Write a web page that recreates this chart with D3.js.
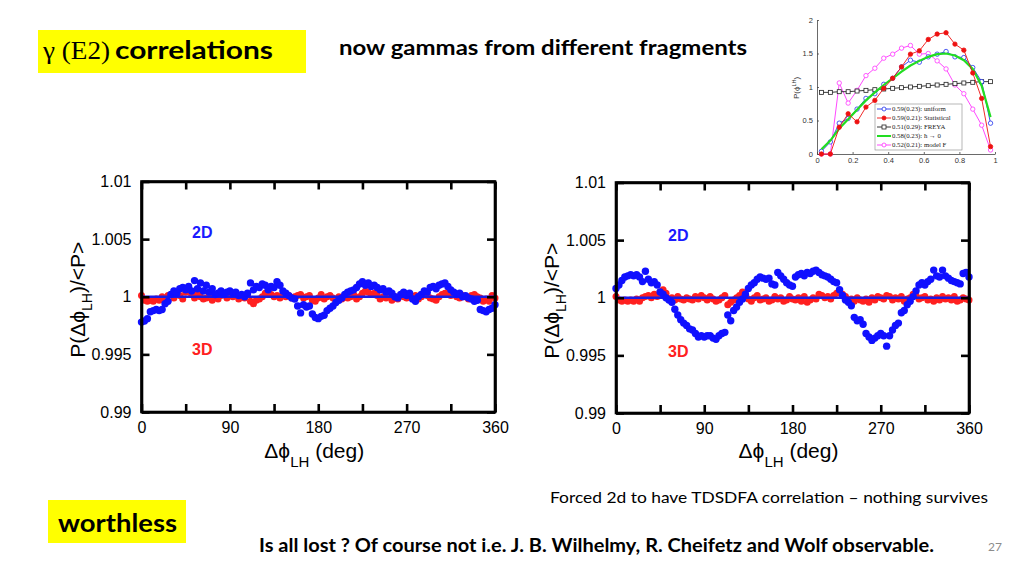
<!DOCTYPE html>
<html><head><meta charset="utf-8">
<script src="https://cdn.jsdelivr.net/npm/d3@7"></script>
<style>body{margin:0;background:#fff}</style>
</head><body><svg id="c" width="1024" height="576"></svg>
<script>
// ---------- main panels data ----------
const angles = d3.range(0, 361, 3);            // Δφ_LH (deg)
const yTicks = [0.99, 0.995, 1, 1.005, 1.01];
const yTickLabels = ["0.99", "0.995", "1", "1.005", "1.01"];
const xTicks = [0, 45, 90, 135, 180, 225, 270, 315, 360];
const xTickLabels = ["0", "", "90", "", "180", "", "270", "", "360"];
const fitLine = [[0, 1], [360, 1]];
// deviations from 1, in units of 1e-4
const left2D = [
 -22,-21,-19,-13,-12,-11,-12,-11,-6,-4,
 2,5,3,7,8,6,9,5,14,7,
 12,5,10,4,7,2,3,5,2,4,
 5,3,4,1,2,0,3,12,6,9,
 8,11,10,6,9,8,13,10,5,3,
 1,-1,-2,-8,-14,-7,-9,-8,-15,-18,
 -19,-17,-16,-12,-10,-8,-5,-3,-1,2,
 4,5,6,8,11,13,10,12,9,10,
 8,6,7,4,5,3,0,-1,2,4,
 1,3,-2,-4,0,2,5,4,8,9,
 7,10,11,12,9,6,4,2,3,0,
 1,-1,-2,-4,-3,-11,-12,-13,-11,-10,
 -7];
const left3D = [
 1,-3,-4,-3,-4,-2,-3,0,-2,1,
 2,-1,3,1,-2,4,7,2,-1,3,
 0,-2,-1,2,-3,0,-2,1,3,-1,
 2,0,1,-2,1,-1,2,-4,-6,-3,
 -2,0,3,5,2,0,1,-1,2,0,
 1,-1,0,1,2,-1,0,1,-3,-4,
 -1,2,-2,0,1,-1,-3,0,-2,1,
 -1,0,2,-2,0,3,5,4,2,3,
 1,-2,0,-1,1,-3,0,-2,1,0,
 -1,2,0,1,-2,0,3,1,-1,-2,
 -3,0,2,3,4,1,2,0,-1,1,
 0,-2,1,2,0,-1,-4,-2,-4,1,
 -1];
const right2D = [
 8,11,15,18,19,20,19,20,18,14,
 23,16,13,14,11,5,3,0,-2,-4,
 -10,-15,-19,-22,-24,-27,-28,-31,-34,-33,
 -34,-33,-33,-35,-36,-33,-31,-30,-15,-20,
 -11,-8,-4,-1,3,8,11,13,16,18,
 17,16,17,12,11,22,19,16,13,11,
 10,18,20,21,19,22,21,23,24,22,
 20,19,18,16,14,13,7,2,-2,-4,
 -7,-17,-20,-19,-23,-31,-34,-37,-35,-33,
 -31,-33,-42,-33,-28,-24,-22,-13,-11,-6,
 -3,1,6,11,13,11,14,16,24,19,
 18,24,19,17,15,14,13,12,21,22,
 18];
const right3D = [
 1,-2,-3,-2,-3,-2,-3,-1,-3,0,
 1,2,0,3,1,5,7,4,-1,0,
 -2,1,-1,-2,0,-1,-2,1,-1,2,
 0,-2,1,-1,-3,-2,0,2,-6,-4,
 -2,0,2,5,1,-1,-3,0,2,-2,
 -1,0,-3,-2,1,-1,0,-3,-2,1,
 -1,-2,0,-3,1,-4,-2,0,-1,3,
 2,0,1,-1,2,4,6,3,1,-2,
 -1,-3,0,-2,-3,-1,-4,0,-2,1,
 0,-1,2,1,-2,0,-1,1,-3,-1,
 0,3,2,-1,0,1,-2,-1,-3,0,
 -2,1,-1,0,-2,1,-3,-2,0,-1,
 -2];

// ---------- inset data ----------
const insetX = [0.025,0.075,0.125,0.175,0.225,0.275,0.325,0.375,0.425,0.475,0.525,0.575,0.625,0.675,0.725,0.775,0.825,0.875,0.925,0.975];
const uniform     = [0.04,0.18,0.46,0.53,0.67,0.83,0.9,1.04,1.13,1.3,1.4,1.37,1.45,1.49,1.53,1.45,1.44,1.29,1.08,0.46];
const statistical = [0,0,0.4,0.6,0.48,0.7,0.8,0.98,1.13,1.3,1.49,1.54,1.71,1.79,1.81,1.64,1.55,1.21,0.83,0.11];
const freya       = [0.92,0.92,0.93,0.93,0.94,0.95,0.96,0.97,0.98,0.99,1.0,1.01,1.02,1.03,1.04,1.05,1.06,1.07,1.08,1.08];
const hbar0       = [0.07,0.2,0.38,0.52,0.66,0.8,0.92,1.03,1.13,1.23,1.32,1.39,1.45,1.49,1.5,1.47,1.4,1.27,1.02,0.55];
const modelF      = [0,0,1.06,0.76,0.95,1.17,1.28,1.43,1.49,1.58,1.62,1.49,1.5,1.39,1.27,1.03,0.9,0.67,0.43,0.06];
const insetXTicks = [0,0.2,0.4,0.6,0.8,1];
const insetYTicks = [0,0.5,1,1.5,2];
const legendLabels = ["0.59(0.23): uniform","0.59(0.21): Statistical","0.51(0.29): FREYA","0.58(0.23): \u0127 \u2192 0","0.52(0.21): model F"];

const svg = d3.select("#c");
svg.append("rect").attr("width",1024).attr("height",576).attr("fill","#fff");
const SANS = "'Liberation Sans', Arial, sans-serif";
const CAL = "Lato, 'Open Sans', sans-serif";

function panel(cfg, blue, red) {
  const x = d3.scaleLinear().domain([0,360]).range([cfg.x0, cfg.x1]);
  const y = d3.scaleLinear().domain([0.99,1.01]).range([cfg.y1, cfg.y0]);
  const g = svg.append("g");
  g.selectAll("circle.r").data(red).join("circle").attr("class","r")
    .attr("cx",(d,i)=>x(angles[i])).attr("cy",d=>y(1+d*1e-4)).attr("r",3.5).attr("fill","#ff2020");
  g.append("path").datum(fitLine).attr("d", d3.line().x(d=>x(d[0])).y(d=>y(d[1])))
    .attr("stroke","#1a1ae6").attr("stroke-width",2.5).attr("fill","none");
  g.selectAll("circle.b").data(blue).join("circle").attr("class","b")
    .attr("cx",(d,i)=>x(angles[i])).attr("cy",d=>y(1+d*1e-4)).attr("r",3.7).attr("fill","#1010ff");

  const fmtX = (d)=>xTickLabels[xTicks.indexOf(d)];
  const fmtY = (d)=>yTickLabels[yTicks.indexOf(d)];
  const axes = [
    g.append("g").attr("transform",`translate(0,${cfg.y1})`).call(d3.axisBottom(x).tickValues(xTicks).tickFormat(fmtX).tickSizeInner(-8).tickSizeOuter(0).tickPadding(10)),
    g.append("g").attr("transform",`translate(0,${cfg.y0})`).call(d3.axisTop(x).tickValues(xTicks).tickFormat("").tickSizeInner(-8).tickSizeOuter(0)),
    g.append("g").attr("transform",`translate(${cfg.x0},0)`).call(d3.axisLeft(y).tickValues(yTicks).tickFormat(fmtY).tickSizeInner(-8).tickSizeOuter(0).tickPadding(10)),
    g.append("g").attr("transform",`translate(${cfg.x1},0)`).call(d3.axisRight(y).tickValues(yTicks).tickFormat("").tickSizeInner(-8).tickSizeOuter(0))
  ];
  axes.forEach(a=>{
    a.select(".domain").attr("stroke","#000").attr("stroke-width",2.6);
    a.selectAll(".tick line").attr("stroke","#000").attr("stroke-width",2.6);
    a.selectAll("text").attr("font-family",SANS).attr("font-size",16).attr("fill","#000");
  });
  g.append("rect").attr("x",cfg.x0).attr("y",cfg.y0).attr("width",cfg.x1-cfg.x0).attr("height",cfg.y1-cfg.y0)
    .attr("fill","none").attr("stroke","#000").attr("stroke-width",2.6);

  // axis titles
  const xt = g.append("text").attr("x",(cfg.x0+cfg.x1)/2 - 4).attr("y",458).attr("text-anchor","middle")
    .attr("font-family",SANS).attr("font-size",21).attr("fill","#000");
  xt.append("tspan").text("\u0394\u03d5");
  xt.append("tspan").attr("font-size",15).attr("dy",9).text("LH");
  xt.append("tspan").attr("dy",-9).text(" (deg)");

  const yt = g.append("text").attr("transform",`translate(${cfg.x0-57},${(cfg.y0+cfg.y1)/2 + 3}) rotate(-90)`)
    .attr("text-anchor","middle").attr("font-family",SANS).attr("font-size",21).attr("fill","#000");
  yt.append("tspan").text("P(\u0394\u03d5");
  yt.append("tspan").attr("font-size",14).attr("dy",7).text("LH");
  yt.append("tspan").attr("dy",-7).text(")/<P>");

  g.append("text").attr("x",cfg.lx).attr("y",cfg.l2y).attr("font-family",SANS).attr("font-weight","bold")
    .attr("font-size",16).attr("fill","#1a1aff").text("2D");
  g.append("text").attr("x",cfg.lx).attr("y",cfg.l3y).attr("font-family",SANS).attr("font-weight","bold")
    .attr("font-size",16).attr("fill","#ff2020").text("3D");
}

panel({x0:141.5, x1:495, y0:181.5, y1:412, lx:192, l2y:238, l3y:355}, left2D, left3D);
panel({x0:616, x1:969, y0:182.5, y1:413, lx:668, l2y:241, l3y:357}, right2D, right3D);

// ---------- inset ----------
(function(){
  const x = d3.scaleLinear().domain([0,1]).range([817,995]);
  const y = d3.scaleLinear().domain([0,2]).range([154,20]);
  const g = svg.append("g");
  const ax = [
    g.append("g").attr("transform","translate(0,154)").call(d3.axisBottom(x).tickValues(insetXTicks).tickFormat(d3.format("")).tickSizeInner(-2).tickSizeOuter(0).tickPadding(4)),
    g.append("g").attr("transform","translate(817,0)").call(d3.axisLeft(y).tickValues(insetYTicks).tickFormat(d3.format("")).tickSizeInner(-2).tickSizeOuter(0).tickPadding(4))
  ];
  ax.forEach(a=>{
    a.select(".domain").attr("stroke","#444").attr("stroke-width",0.8);
    a.selectAll(".tick line").attr("stroke","#444").attr("stroke-width",0.8);
    a.selectAll("text").attr("font-family",SANS).attr("font-size",7.5).attr("fill","#333");
  });
  const yl = g.append("text").attr("transform","translate(799,88) rotate(-90)").attr("text-anchor","middle")
    .attr("font-family",SANS).attr("font-size",8).attr("fill","#333");
  yl.append("tspan").text("P(\u03d5");
  yl.append("tspan").attr("font-size",5.5).attr("dy",-3).text("LH");
  yl.append("tspan").attr("dy",3).text(")");

  const line = d3.line().x((d,i)=>x(insetX[i])).y(d=>y(d));
  const series = [
    {data:modelF, color:"#ff33ff", w:0.9, mark:"ocircle"},
    {data:freya, color:"#222", w:0.9, mark:"osquare"},
    {data:uniform, color:"#2233ee", w:0.9, mark:"ocircle"},
    {data:hbar0, color:"#22dd22", w:2.2, mark:"none"},
    {data:statistical, color:"#ee1111", w:0.9, mark:"fcircle"}
  ];
  series.forEach(s=>{
    g.append("path").datum(s.data).attr("d",line).attr("fill","none").attr("stroke",s.color).attr("stroke-width",s.w);
    if (s.mark==="ocircle"||s.mark==="fcircle") {
      g.selectAll(null).data(s.data).join("circle").attr("cx",(d,i)=>x(insetX[i])).attr("cy",d=>y(d)).attr("r",2.2)
        .attr("fill",s.mark==="fcircle"?s.color:"#fff").attr("stroke",s.color).attr("stroke-width",0.8);
    } else if (s.mark==="osquare") {
      g.selectAll(null).data(s.data).join("rect").attr("x",(d,i)=>x(insetX[i])-2).attr("y",d=>y(d)-2).attr("width",4).attr("height",4)
        .attr("fill","#fff").attr("stroke",s.color).attr("stroke-width",0.8);
    }
  });
  // legend
  const lg = g.append("g");
  lg.append("rect").attr("x",875).attr("y",104).attr("width",87).attr("height",46).attr("fill","#fff").attr("stroke","#888").attr("stroke-width",0.6);
  const order = [series[2], series[4], series[1], series[3], series[0]];
  order.forEach((s,i)=>{
    const yy = 109 + i*9;
    lg.append("line").attr("x1",877).attr("x2",891).attr("y1",yy).attr("y2",yy).attr("stroke",s.color).attr("stroke-width",s.w===2.2?2:0.9);
    if (s.mark==="ocircle"||s.mark==="fcircle") lg.append("circle").attr("cx",884).attr("cy",yy).attr("r",2).attr("fill",s.mark==="fcircle"?s.color:"#fff").attr("stroke",s.color).attr("stroke-width",0.8);
    if (s.mark==="osquare") lg.append("rect").attr("x",882).attr("y",yy-2).attr("width",4).attr("height",4).attr("fill","#fff").attr("stroke",s.color).attr("stroke-width",0.8);
    lg.append("text").attr("x",892).attr("y",yy+2.3).attr("font-family","'Liberation Serif', serif").attr("font-size",6.8).attr("fill","#222").text(legendLabels[i]);
  });
})();

// ---------- slide text ----------
svg.append("rect").attr("x",38).attr("y",30).attr("width",268).attr("height",43).attr("fill","#ffff00");
svg.append("text").attr("x",43).attr("y",59).attr("font-family","'Liberation Serif', serif").attr("font-size",26).attr("fill","#000")
  .attr("textLength",67).attr("lengthAdjust","spacingAndGlyphs").text("\u03b3 (E2)");
svg.append("text").attr("x",115).attr("y",59).attr("font-family",CAL).attr("font-weight","bold").attr("font-size",24)
  .attr("textLength",158).attr("lengthAdjust","spacingAndGlyphs").text("correlations");

svg.append("text").attr("x",339).attr("y",55).attr("font-family",CAL).attr("font-weight","bold").attr("font-size",21)
  .attr("textLength",408).attr("lengthAdjust","spacingAndGlyphs").text("now gammas from different fragments");

svg.append("rect").attr("x",48).attr("y",500).attr("width",138).attr("height",43).attr("fill","#ffff00");
svg.append("text").attr("x",58).attr("y",532).attr("font-family",CAL).attr("font-weight","bold").attr("font-size",25)
  .attr("textLength",119).attr("lengthAdjust","spacingAndGlyphs").text("worthless");

svg.append("text").attr("x",550).attr("y",503).attr("font-family",CAL).attr("font-size",16)
  .attr("textLength",438).attr("lengthAdjust","spacingAndGlyphs").text("Forced 2d to have TDSDFA correlation \u2013 nothing survives");

svg.append("text").attr("x",259).attr("y",552).attr("font-family",CAL).attr("font-weight","bold").attr("font-size",18)
  .attr("textLength",675).attr("lengthAdjust","spacingAndGlyphs").text("Is all lost ? Of course not i.e. J. B. Wilhelmy, R. Cheifetz and Wolf observable.");

svg.append("text").attr("x",988).attr("y",551).attr("font-family",CAL).attr("font-size",12).attr("fill","#8c8c8c").text("27");
</script></body></html>
